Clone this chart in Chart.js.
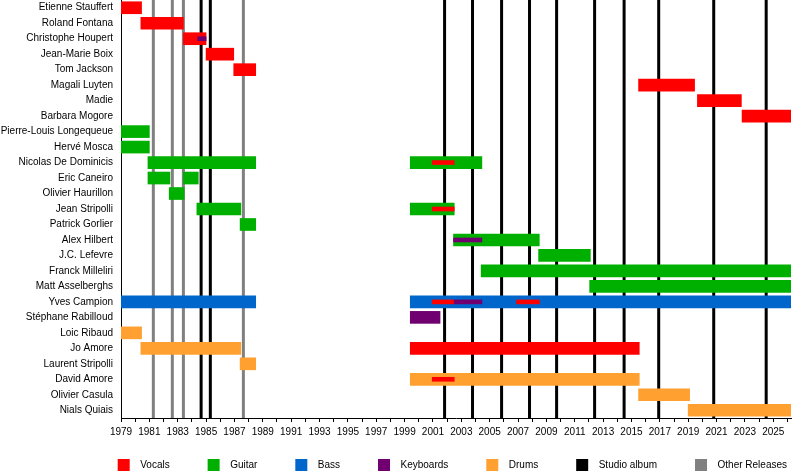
<!DOCTYPE html>
<html>
<head>
<meta charset="utf-8">
<script src="https://cdn.jsdelivr.net/npm/chart.js@4/dist/chart.umd.min.js"></script>
<style>
  html, body { margin: 0; padding: 0; background: #fff; }
  #wrap { width: 800px; height: 476px; }
</style>
</head>
<body>
<div id="wrap"><canvas id="c" width="800" height="476"></canvas></div>
<script>
// ---- Data ----
const members = [
  "Etienne Stauffert", "Roland Fontana", "Christophe Houpert", "Jean-Marie Boix",
  "Tom Jackson", "Magali Luyten", "Madie", "Barbara Mogore",
  "Pierre-Louis Longequeue", "Hervé Mosca", "Nicolas De Dominicis", "Eric Caneiro",
  "Olivier Haurillon", "Jean Stripolli", "Patrick Gorlier", "Alex Hilbert",
  "J.C. Lefevre", "Franck Milleliri", "Matt Asselberghs", "Yves Campion",
  "Stéphane Rabilloud", "Loic Ribaud", "Jo Amore", "Laurent Stripolli",
  "David Amore", "Olivier Casula", "Nials Quiais"
];

// [member, start year, end year]
const vocals = [
  ["Etienne Stauffert", 1979.0, 1980.45],
  ["Roland Fontana", 1980.4, 1983.4],
  ["Christophe Houpert", 1983.4, 1985.0],
  ["Jean-Marie Boix", 1985.0, 1986.95],
  ["Tom Jackson", 1986.95, 1988.5],
  ["Magali Luyten", 2015.5, 2019.45],
  ["Madie", 2019.65, 2022.75],
  ["Barbara Mogore", 2022.8, 2026.25],
  ["Jo Amore", 1999.4, 2015.55]
];
const guitar = [
  ["Pierre-Louis Longequeue", 1979.0, 1981.0],
  ["Hervé Mosca", 1979.0, 1981.0],
  ["Nicolas De Dominicis", 1980.9, 1988.5],
  ["Nicolas De Dominicis", 1999.4, 2004.45],
  ["Eric Caneiro", 1980.9, 1982.45],
  ["Eric Caneiro", 1983.4, 1984.45],
  ["Olivier Haurillon", 1982.4, 1983.45],
  ["Jean Stripolli", 1984.35, 1987.45],
  ["Jean Stripolli", 1999.4, 2002.5],
  ["Patrick Gorlier", 1987.4, 1988.5],
  ["Alex Hilbert", 2002.45, 2008.5],
  ["J.C. Lefevre", 2008.45, 2012.1],
  ["Franck Milleliri", 2004.4, 2026.25],
  ["Matt Asselberghs", 2012.05, 2026.25]
];
const bass = [
  ["Yves Campion", 1979.0, 1988.5],
  ["Yves Campion", 1999.4, 2026.25]
];
const keyboards = [
  ["Stéphane Rabilloud", 1999.4, 2001.5]
];
const drums = [
  ["Loic Ribaud", 1979.0, 1980.45],
  ["Jo Amore", 1980.4, 1987.45],
  ["Laurent Stripolli", 1987.4, 1988.5],
  ["David Amore", 1999.4, 2015.55],
  ["Olivier Casula", 2015.5, 2019.1],
  ["Nials Quiais", 2019.0, 2026.25]
];
// secondary roles (thin bars)
const vocalsSecondary = [
  ["Nicolas De Dominicis", 2000.95, 2002.5],
  ["Jean Stripolli", 2000.95, 2002.5],
  ["Yves Campion", 2000.95, 2002.45],
  ["Yves Campion", 2006.9, 2008.5],
  ["David Amore", 2000.95, 2002.5]
];
const keyboardsSecondary = [
  ["Christophe Houpert", 1984.4, 1985.0],
  ["Alex Hilbert", 2002.45, 2004.45],
  ["Yves Campion", 2002.45, 2004.45]
];
const studioAlbums = [1984.65, 1985.3, 2001.82, 2003.79, 2005.84, 2007.81, 2009.72, 2012.4, 2014.48, 2016.92, 2020.8, 2024.5];
const otherReleases = [1981.28, 1982.62, 1983.4, 1987.63];

const yearMin = 1979, yearMax = 2026.25;
const tickYears = [];
for (let y = 1979; y <= 2026; y++) tickYears.push(y);

const legendLabels = ["Vocals", "Guitar", "Bass", "Keyboards", "Drums", "Studio album", "Other Releases"];
const colors = {
  vocals: "#FF0000", guitar: "#00B000", bass: "#0066CC", keyboards: "#700070",
  drums: "#FFA030", studio: "#000000", other: "#808080"
};
const legendColors = [colors.vocals, colors.guitar, colors.bass, colors.keyboards, colors.drums, colors.studio, colors.other];

// ---- Build datasets ----
const toBars = arr => arr.map(([m, s, e]) => ({ y: m, x: [s, e] }));
const toLines = arr => arr.flatMap(v => [{ x: v, y: 0 }, { x: v, y: 1 }, { x: v, y: null }]);

function barSet(label, arr, color, thick, order) {
  return {
    type: 'bar', label, data: toBars(arr), indexAxis: 'y',
    xAxisID: 'x', yAxisID: 'y',
    backgroundColor: color, borderWidth: 0, borderSkipped: false,
    grouped: false, barThickness: thick, order
  };
}
function lineSet(label, arr, color, order) {
  return {
    type: 'line', label, data: toLines(arr), indexAxis: 'x',
    xAxisID: 'x', yAxisID: 'yLine',
    borderColor: color, borderWidth: 3, pointRadius: 0, spanGaps: false,
    fill: false, order
  };
}

const datasets = [
  lineSet("Other Releases", otherReleases, colors.other, 11),
  lineSet("Studio album", studioAlbums, colors.studio, 10),
  barSet("Vocals", vocals, colors.vocals, 12, 5),
  barSet("Guitar", guitar, colors.guitar, 12, 5),
  barSet("Bass", bass, colors.bass, 12, 5),
  barSet("Keyboards", keyboards, colors.keyboards, 12, 5),
  barSet("Drums", drums, colors.drums, 12, 5),
  barSet("Vocals (secondary)", vocalsSecondary, colors.vocals, 4, 1),
  barSet("Keyboards (secondary)", keyboardsSecondary, colors.keyboards, 4, 1)
];

const FONT = '"Liberation Sans", Arial, Helvetica, sans-serif';

const legendPlugin = {
  id: 'timelineLegend',
  afterDraw(chart) {
    const { ctx, chartArea } = chart;
    ctx.save();
    ctx.font = '10px ' + FONT;
    const box = 12, gap = 10.5;
    const widths = legendLabels.map(t => ctx.measureText(t).width);
    const start = chartArea.left - 3.3;
    const end = chartArea.right - 4;
    const used = widths.reduce((a, w) => a + box + gap + w, 0);
    const spacing = (end - start - used) / (legendLabels.length - 1);
    const yc = 465;
    let x = start;
    legendLabels.forEach((t, i) => {
      ctx.fillStyle = legendColors[i];
      ctx.fillRect(x, yc - 6, box, box);
      ctx.fillStyle = '#000';
      ctx.textBaseline = 'middle';
      ctx.textAlign = 'left';
      ctx.fillText(t, x + box + gap, yc);
      x += box + gap + widths[i] + spacing;
    });
    ctx.restore();
  }
};

new Chart(document.getElementById('c'), {
  type: 'bar',
  data: { labels: members, datasets },
  options: {
    responsive: false,
    animation: false,
    events: [],
    layout: { padding: { top: -2, right: 9, left: 0, bottom: 0 } },
    plugins: { legend: { display: false }, tooltip: { enabled: false } },
    scales: {
      x: {
        type: 'linear', position: 'bottom', min: yearMin, max: yearMax, offset: false,
        afterBuildTicks: s => { s.ticks = tickYears.map(v => ({ value: v })); },
        afterFit: s => { s.height = 58; s.paddingLeft = 0; s.paddingRight = 0; },
        ticks: {
          autoSkip: false, maxRotation: 0, padding: 4,
          color: '#000', font: { size: 10, family: FONT },
          callback: v => (v % 2 === 1 ? String(v) : '')
        },
        grid: { offset: false, drawOnChartArea: false, drawTicks: true, tickLength: 4, color: '#000', tickWidth: 1 },
        border: { display: true, color: '#000', width: 1 }
      },
      y: {
        type: 'category', position: 'left', offset: true,
        afterFit: s => { s.width = 121; s.paddingTop = 0; s.paddingBottom = 0; },
        ticks: { autoSkip: false, padding: 8, color: '#000', font: { size: 10, family: FONT } },
        grid: { drawOnChartArea: false, drawTicks: false },
        border: { display: true, color: '#000', width: 1 }
      },
      yLine: { type: 'linear', min: 0, max: 1, display: false }
    }
  },
  plugins: [legendPlugin]
});
</script>
</body>
</html>
